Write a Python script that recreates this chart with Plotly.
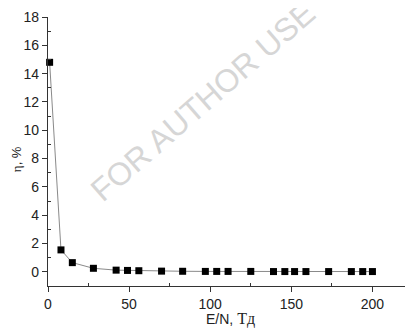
import plotly.graph_objects as go

x_vals = [1, 8, 15, 28, 42, 49, 56, 70, 83, 97, 104, 111, 125, 139, 146, 152, 159, 173, 187, 194, 200]
eta_vals = [14.8, 1.55, 0.65, 0.25, 0.12, 0.1, 0.08, 0.05, 0.04, 0.03, 0.03, 0.03, 0.03, 0.02, 0.02, 0.02, 0.02, 0.02, 0.02, 0.02, 0.02]
x_title = "E/N, <span style='font-family:Liberation Serif;font-size:16px'>Тд</span>"
y_title = "<span style='font-family:Liberation Serif'>η</span>, %"

fig = go.Figure()
fig.add_trace(go.Scatter(
    x=x_vals, y=eta_vals, mode="lines+markers",
    line=dict(color="#8a8a8a", width=1),
    marker=dict(symbol="square", size=7, color="black"),
    cliponaxis=False, showlegend=False,
))

axis_common = dict(
    showgrid=False, zeroline=False, showline=True, linecolor="#333", linewidth=1.3,
    ticks="outside", ticklen=5, tickwidth=1.2, tickcolor="#333", automargin=False,
    tickfont=dict(family="Liberation Sans, Arial", size=14, color="#222"),
)

fig.update_xaxes(
    range=[0, 225], tickvals=[0, 50, 100, 150, 200],
    minor=dict(tickvals=[25, 75, 125, 175, 225], ticks="inside", ticklen=3, tickcolor="#333"),
    **axis_common,
)
fig.update_yaxes(
    range=[-1, 18], tickvals=list(range(0, 19, 2)),
    minor=dict(tickvals=[-1] + list(range(1, 18, 2)), ticks="inside", ticklen=3, tickcolor="#333"),
    **axis_common,
)

fig.add_annotation(
    text=x_title, xref="paper", yref="paper", x=0.5, y=-0.122,
    xanchor="center", yanchor="middle", showarrow=False,
    font=dict(family="Liberation Sans, Arial", size=14, color="#222"),
)
fig.add_annotation(
    text=y_title, xref="paper", yref="paper", x=-0.086, y=0.47,
    xanchor="center", yanchor="middle", showarrow=False, textangle=-90,
    font=dict(family="Liberation Sans, Arial", size=13, color="#222"),
)

fig.add_annotation(
    text="FOR AUTHOR USE ONLY", xref="paper", yref="paper", x=0.52, y=0.80,
    xanchor="center", yanchor="middle",
    showarrow=False, textangle=-41,
    font=dict(family="Liberation Sans, Arial", size=32, color="#d6d6d6"),
)

# page body has an 8px margin, so the figure is 8px smaller with reduced left/top margins
fig.update_layout(
    width=405, height=322,
    margin=dict(l=40, r=0, t=9, b=44),
    paper_bgcolor="white", plot_bgcolor="white",
)

fig.write_html("out.html")
